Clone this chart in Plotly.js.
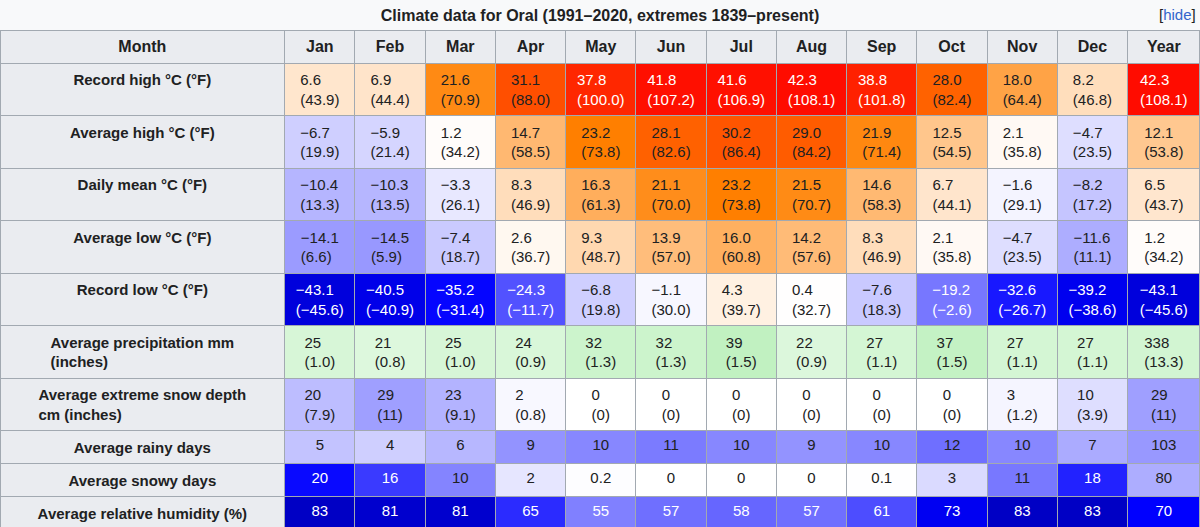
<!DOCTYPE html>
<html>
<head>
<meta charset="utf-8">
<script src="https://cdn.plot.ly/plotly-3.0.1.min.js"></script>
<style>html,body{margin:0;padding:0;background:#f8f9fa;}#chart{width:1200px;height:527px;}</style>
</head>
<body>
<div id="chart"></div>
<script>
// Climate data for Oral (1991–2020)
const months = ['Jan', 'Feb', 'Mar', 'Apr', 'May', 'Jun', 'Jul', 'Aug', 'Sep', 'Oct', 'Nov', 'Dec', 'Year'];

const recordHigh = [6.6, 6.9, 21.6, 31.1, 37.8, 41.8, 41.6, 42.3, 38.8, 28.0, 18.0, 8.2, 42.3];
const avgHigh = [-6.7, -5.9, 1.2, 14.7, 23.2, 28.1, 30.2, 29.0, 21.9, 12.5, 2.1, -4.7, 12.1];
const dailyMean = [-10.4, -10.3, -3.3, 8.3, 16.3, 21.1, 23.2, 21.5, 14.6, 6.7, -1.6, -8.2, 6.5];
const avgLow = [-14.1, -14.5, -7.4, 2.6, 9.3, 13.9, 16.0, 14.2, 8.3, 2.1, -4.7, -11.6, 1.2];
const recordLow = [-43.1, -40.5, -35.2, -24.3, -6.8, -1.1, 4.3, 0.4, -7.6, -19.2, -32.6, -39.2, -43.1];
const precipMm = [25, 21, 25, 24, 32, 32, 39, 22, 27, 37, 27, 27, 338];
const precipIn = ['1.0', '0.8', '1.0', '0.9', '1.3', '1.3', '1.5', '0.9', '1.1', '1.5', '1.1', '1.1', '13.3'];
const snowCm = [20, 29, 23, 2, 0, 0, 0, 0, 0, 0, 3, 10, 29];
const snowIn = ['7.9', '11', '9.1', '0.8', '0', '0', '0', '0', '0', '0', '1.2', '3.9', '11'];
const rainyDays = [5, 4, 6, 9, 10, 11, 10, 9, 10, 12, 10, 7, 103];
const snowyDays = [20, 16, 10, 2, 0.2, 0, 0, 0, 0.1, 3, 11, 18, 80];
const humidity = [83, 81, 81, 65, 55, 57, 58, 57, 61, 73, 83, 83, 70];
const sunshine = [84, 120, 165, 227, 314, 304, 324, 293, 220, 136, 64, 65, 2316];

const rowLabels = [
    'Record high °C (°F)',
    'Average high °C (°F)',
    'Daily mean °C (°F)',
    'Average low °C (°F)',
    'Record low °C (°F)',
    'Average precipitation mm<br>(inches)',
    'Average extreme snow depth<br>cm (inches)',
    'Average rainy days',
    'Average snowy days',
    'Average relative humidity (%)',
    'Mean monthly sunshine hours'
];

const clamp = v => Math.max(0, Math.min(255, Math.round(v)));
const rgb = (r, g, b) => `rgb(${clamp(r)},${clamp(g)},${clamp(b)})`;

function tempColor(t) {
    if (t >= 0) {
        if (t <= 23) {
            const f = Math.pow(t / 23, 1.3);
            return rgb(255, 255 - 127 * f, 255 - 255 * f);
        }
        return rgb(255, 128 - (t - 23) * 6, 0);
    }
    const a = -t;
    if (a <= 36) return rgb(255 - a * 7.1, 255 - a * 7.1, 255);
    return rgb(0, 0, 255 - (a - 36) * 5);
}
const blueScale = (v, k) => rgb(255 - v * k, 255 - v * k, 255);
function humidColor(h) {
    if (h <= 70) return rgb(255 - (h - 40) * 8.5, 255 - (h - 40) * 8.5, 255);
    return rgb(0, 0, 255 - (h - 70) * 4.5);
}
function sunColor(s) {
    if (s < 100) return rgb(128 + (s - 60) * 1.0, 128 + (s - 60) * 1.0, 128 + (s - 60) * 1.0);
    if (s < 170) return rgb(195 + (s - 120) * 0.1, 195 + (s - 120) * 0.1, 50 - (s - 120));
    return rgb(205 + (s - 165) * 0.34, 205 + (s - 165) * 0.34, 0);
}
const fmt = v => (v < 0 ? '\u2212' + Math.abs(v).toFixed(1) : v.toFixed(1));
const toF = c => Math.round((c * 9 / 5 + 32) * 10) / 10;

const tempRows = [recordHigh, avgHigh, dailyMean, avgLow, recordLow];

const columns = [rowLabels.map(l => '<b>' + l + '</b>')];
const fills = [Array(rowLabels.length).fill('#eaecf0')];
const fontColors = [Array(rowLabels.length).fill('#202122')];

months.forEach((m, i) => {
    const isYear = i === 12;
    const text = [], fill = [], fc = [];
    tempRows.forEach(row => {
        const c = row[i];
        text.push(fmt(c) + '<br>(' + fmt(toF(c)) + ')');
        fill.push(tempColor(c));
        fc.push(c > 35 || c < -18 ? '#ffffff' : '#202122');
    });
    const pm = isYear ? precipMm[i] / 12 : precipMm[i];
    text.push(precipMm[i] + '<br>(' + precipIn[i] + ')');
    fill.push(rgb(255 - pm * 1.6, 255 - pm * 0.35, 255 - pm * 1.6));
    fc.push('#202122');
    text.push(snowCm[i] + '<br>(' + snowIn[i] + ')');
    fill.push(blueScale(snowCm[i], 3.3));
    fc.push('#202122');
    const rd = isYear ? rainyDays[i] / 12 : rainyDays[i];
    text.push(String(rainyDays[i]));
    fill.push(blueScale(rd, 12));
    fc.push('#202122');
    const sd = isYear ? snowyDays[i] / 12 : snowyDays[i];
    text.push(String(snowyDays[i]));
    fill.push(blueScale(sd, 12.3));
    fc.push(sd >= 15 ? '#ffffff' : '#202122');
    text.push(String(humidity[i]));
    fill.push(humidColor(humidity[i]));
    fc.push('#ffffff');
    const sv = isYear ? sunshine[i] / 12 : sunshine[i];
    text.push(isYear ? sunshine[i].toLocaleString('en-US') : String(sunshine[i]));
    fill.push(sunColor(sv));
    fc.push(sv < 70 ? '#ffffff' : '#202122');
    columns.push(text);
    fills.push(fill);
    fontColors.push(fc);
});

const trace = {
    type: 'table',
    columnwidth: [287].concat(Array(12).fill(70.8), [73]),
    domain: { x: [0, 1], y: [0, 1 - 30 / 527] },
    header: {
        values: ['<b>Month</b>'].concat(months.map(m => '<b>' + m + '</b>')),
        align: 'center',
        height: 28,
        fill: { color: '#eaecf0' },
        line: { color: '#a2a9b1', width: 1 },
        font: { family: 'Liberation Sans, Arial, sans-serif', size: 16, color: '#202122' }
    },
    cells: {
        values: columns,
        align: 'center',
        height: 30,
        fill: { color: fills },
        line: { color: '#a2a9b1', width: 1 },
        font: { family: 'Liberation Sans, Arial, sans-serif', size: 15, color: fontColors }
    }
};

const layout = {
    width: 1200,
    height: 527,
    margin: { l: 0, r: 0, t: 0, b: 0 },
    paper_bgcolor: '#f8f9fa',
    title: {
        text: '<b>Climate data for Oral (1991–2020, extremes 1839–present)</b>',
        font: { family: 'Liberation Sans, Arial, sans-serif', size: 16, color: '#202122' },
        x: 0.5, xanchor: 'center', y: 1 - 15 / 527, yanchor: 'middle'
    },
    annotations: [{
        text: '[<span style="color:#3366cc">hide</span>]',
        xref: 'paper', yref: 'paper', x: 0.998, y: 1 - 15 / 527,
        xanchor: 'right', yanchor: 'middle', showarrow: false,
        font: { family: 'Liberation Sans, Arial, sans-serif', size: 15, color: '#202122' }
    }]
};

Plotly.newPlot('chart', [trace], layout, { displayModeBar: false, responsive: false });
</script>
</body>
</html>
